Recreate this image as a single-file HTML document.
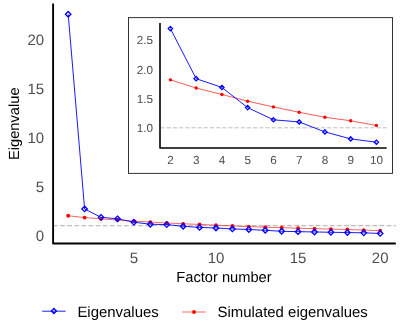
<!DOCTYPE html><html lang="en"><head><meta charset="utf-8"><style>html,body{margin:0;padding:0;background:#fff}svg{display:block;will-change:transform}text{text-rendering:geometricPrecision;font-family:"Liberation Sans",sans-serif}</style></head><body>
<svg width="405" height="330" viewBox="0 0 405 330">
<rect width="405" height="330" fill="#fff"/>
<line x1="53" y1="225.59" x2="395.8" y2="225.59" stroke="#bebebe" stroke-width="1.1" stroke-dasharray="4.73 2.37"/>
<polyline points="68.20,215.77 84.62,217.54 101.04,218.91 117.46,219.99 133.88,221.12 150.30,222.08 166.72,222.98 183.14,223.82 199.56,224.41 215.98,225.19 232.40,225.98 248.82,226.57 265.24,227.16 281.66,227.65 298.08,228.24 314.50,228.63 330.92,229.12 347.34,229.51 363.76,230.10 380.18,230.69" fill="none" stroke="#ff0000" stroke-width="0.6" stroke-linejoin="round"/>
<circle cx="68.20" cy="215.77" r="1.9" fill="#ff0000"/>
<circle cx="84.62" cy="217.54" r="1.9" fill="#ff0000"/>
<circle cx="101.04" cy="218.91" r="1.9" fill="#ff0000"/>
<circle cx="117.46" cy="219.99" r="1.9" fill="#ff0000"/>
<circle cx="133.88" cy="221.12" r="1.9" fill="#ff0000"/>
<circle cx="150.30" cy="222.08" r="1.9" fill="#ff0000"/>
<circle cx="166.72" cy="222.98" r="1.9" fill="#ff0000"/>
<circle cx="183.14" cy="223.82" r="1.9" fill="#ff0000"/>
<circle cx="199.56" cy="224.41" r="1.9" fill="#ff0000"/>
<circle cx="215.98" cy="225.19" r="1.9" fill="#ff0000"/>
<circle cx="232.40" cy="225.98" r="1.9" fill="#ff0000"/>
<circle cx="248.82" cy="226.57" r="1.9" fill="#ff0000"/>
<circle cx="265.24" cy="227.16" r="1.9" fill="#ff0000"/>
<circle cx="281.66" cy="227.65" r="1.9" fill="#ff0000"/>
<circle cx="298.08" cy="228.24" r="1.9" fill="#ff0000"/>
<circle cx="314.50" cy="228.63" r="1.9" fill="#ff0000"/>
<circle cx="330.92" cy="229.12" r="1.9" fill="#ff0000"/>
<circle cx="347.34" cy="229.51" r="1.9" fill="#ff0000"/>
<circle cx="363.76" cy="230.10" r="1.9" fill="#ff0000"/>
<circle cx="380.18" cy="230.69" r="1.9" fill="#ff0000"/>
<polyline points="68.20,14.27 84.62,208.94 101.04,217.34 117.46,218.81 133.88,222.20 150.30,224.24 166.72,224.60 183.14,226.27 199.56,227.45 215.98,228.00 232.40,228.92 248.82,229.51 265.24,230.30 281.66,231.28 298.08,231.67 314.50,231.96 330.92,232.26 347.34,232.55 363.76,232.85 380.18,233.44" fill="none" stroke="#0000ff" stroke-width="0.9" stroke-linejoin="round"/>
<path d="M68.20 11.52L70.95 14.27L68.20 17.02L65.45 14.27Z" fill="none" stroke="#0000ff" stroke-width="1.3"/>
<path d="M84.62 206.19L87.37 208.94L84.62 211.69L81.87 208.94Z" fill="none" stroke="#0000ff" stroke-width="1.3"/>
<path d="M101.04 214.59L103.79 217.34L101.04 220.09L98.29 217.34Z" fill="none" stroke="#0000ff" stroke-width="1.3"/>
<path d="M117.46 216.06L120.21 218.81L117.46 221.56L114.71 218.81Z" fill="none" stroke="#0000ff" stroke-width="1.3"/>
<path d="M133.88 219.45L136.63 222.20L133.88 224.95L131.13 222.20Z" fill="none" stroke="#0000ff" stroke-width="1.3"/>
<path d="M150.30 221.49L153.05 224.24L150.30 226.99L147.55 224.24Z" fill="none" stroke="#0000ff" stroke-width="1.3"/>
<path d="M166.72 221.85L169.47 224.60L166.72 227.35L163.97 224.60Z" fill="none" stroke="#0000ff" stroke-width="1.3"/>
<path d="M183.14 223.52L185.89 226.27L183.14 229.02L180.39 226.27Z" fill="none" stroke="#0000ff" stroke-width="1.3"/>
<path d="M199.56 224.70L202.31 227.45L199.56 230.20L196.81 227.45Z" fill="none" stroke="#0000ff" stroke-width="1.3"/>
<path d="M215.98 225.25L218.73 228.00L215.98 230.75L213.23 228.00Z" fill="none" stroke="#0000ff" stroke-width="1.3"/>
<path d="M232.40 226.17L235.15 228.92L232.40 231.67L229.65 228.92Z" fill="none" stroke="#0000ff" stroke-width="1.3"/>
<path d="M248.82 226.76L251.57 229.51L248.82 232.26L246.07 229.51Z" fill="none" stroke="#0000ff" stroke-width="1.3"/>
<path d="M265.24 227.55L267.99 230.30L265.24 233.05L262.49 230.30Z" fill="none" stroke="#0000ff" stroke-width="1.3"/>
<path d="M281.66 228.53L284.41 231.28L281.66 234.03L278.91 231.28Z" fill="none" stroke="#0000ff" stroke-width="1.3"/>
<path d="M298.08 228.92L300.83 231.67L298.08 234.42L295.33 231.67Z" fill="none" stroke="#0000ff" stroke-width="1.3"/>
<path d="M314.50 229.21L317.25 231.96L314.50 234.71L311.75 231.96Z" fill="none" stroke="#0000ff" stroke-width="1.3"/>
<path d="M330.92 229.51L333.67 232.26L330.92 235.01L328.17 232.26Z" fill="none" stroke="#0000ff" stroke-width="1.3"/>
<path d="M347.34 229.80L350.09 232.55L347.34 235.30L344.59 232.55Z" fill="none" stroke="#0000ff" stroke-width="1.3"/>
<path d="M363.76 230.10L366.51 232.85L363.76 235.60L361.01 232.85Z" fill="none" stroke="#0000ff" stroke-width="1.3"/>
<path d="M380.18 230.69L382.93 233.44L380.18 236.19L377.43 233.44Z" fill="none" stroke="#0000ff" stroke-width="1.3"/>
<path d="M53.1 3.5V243.55H395.8" fill="none" stroke="#000" stroke-width="1.9" stroke-linejoin="round"/>
<text x="44.2" y="241.20" font-size="15.0" fill="#4d4d4d" text-anchor="end">0</text>
<text x="44.2" y="192.12" font-size="15.0" fill="#4d4d4d" text-anchor="end">5</text>
<text x="44.2" y="143.05" font-size="15.0" fill="#4d4d4d" text-anchor="end">10</text>
<text x="44.2" y="93.98" font-size="15.0" fill="#4d4d4d" text-anchor="end">15</text>
<text x="44.2" y="44.90" font-size="15.0" fill="#4d4d4d" text-anchor="end">20</text>
<text x="133.88" y="262.5" font-size="15.0" fill="#4d4d4d" text-anchor="middle">5</text>
<text x="215.98" y="262.5" font-size="15.0" fill="#4d4d4d" text-anchor="middle">10</text>
<text x="298.08" y="262.5" font-size="15.0" fill="#4d4d4d" text-anchor="middle">15</text>
<text x="380.18" y="262.5" font-size="15.0" fill="#4d4d4d" text-anchor="middle">20</text>
<text x="224.0" y="281.8" font-size="14.67" fill="#000" text-anchor="middle">Factor number</text>
<text transform="translate(18.9,123.7) rotate(-90)" font-size="14.67" fill="#000" text-anchor="middle">Eigenvalue</text>
<rect x="128.5" y="17.6" width="264" height="155.8" fill="#fff" stroke="#333" stroke-width="1.0"/>
<line x1="160" y1="127.80" x2="386.6" y2="127.80" stroke="#bebebe" stroke-width="1.0" stroke-dasharray="4.11 2.06" stroke-dashoffset="-0.6"/>
<polyline points="170.40,79.83 196.15,88.02 221.90,94.45 247.65,101.18 273.40,106.92 299.15,112.30 324.90,117.27 350.65,120.78 376.40,125.46" fill="none" stroke="#ff0000" stroke-width="0.65" stroke-linejoin="round"/>
<circle cx="170.40" cy="79.83" r="1.7" fill="#ff0000"/>
<circle cx="196.15" cy="88.02" r="1.7" fill="#ff0000"/>
<circle cx="221.90" cy="94.45" r="1.7" fill="#ff0000"/>
<circle cx="247.65" cy="101.18" r="1.7" fill="#ff0000"/>
<circle cx="273.40" cy="106.92" r="1.7" fill="#ff0000"/>
<circle cx="299.15" cy="112.30" r="1.7" fill="#ff0000"/>
<circle cx="324.90" cy="117.27" r="1.7" fill="#ff0000"/>
<circle cx="350.65" cy="120.78" r="1.7" fill="#ff0000"/>
<circle cx="376.40" cy="125.46" r="1.7" fill="#ff0000"/>
<polyline points="170.40,28.58 196.15,78.66 221.90,87.44 247.65,107.62 273.40,119.79 299.15,121.95 324.90,131.89 350.65,138.91 376.40,142.19" fill="none" stroke="#0000ff" stroke-width="0.9" stroke-linejoin="round"/>
<path d="M170.40 26.38L172.60 28.58L170.40 30.78L168.20 28.58Z" fill="none" stroke="#0000ff" stroke-width="1.2"/>
<path d="M196.15 76.46L198.35 78.66L196.15 80.86L193.95 78.66Z" fill="none" stroke="#0000ff" stroke-width="1.2"/>
<path d="M221.90 85.23L224.10 87.44L221.90 89.64L219.70 87.44Z" fill="none" stroke="#0000ff" stroke-width="1.2"/>
<path d="M247.65 105.42L249.85 107.62L247.65 109.82L245.45 107.62Z" fill="none" stroke="#0000ff" stroke-width="1.2"/>
<path d="M273.40 117.59L275.60 119.79L273.40 121.99L271.20 119.79Z" fill="none" stroke="#0000ff" stroke-width="1.2"/>
<path d="M299.15 119.75L301.35 121.95L299.15 124.15L296.95 121.95Z" fill="none" stroke="#0000ff" stroke-width="1.2"/>
<path d="M324.90 129.69L327.10 131.89L324.90 134.09L322.70 131.89Z" fill="none" stroke="#0000ff" stroke-width="1.2"/>
<path d="M350.65 136.72L352.85 138.91L350.65 141.11L348.45 138.91Z" fill="none" stroke="#0000ff" stroke-width="1.2"/>
<path d="M376.40 139.99L378.60 142.19L376.40 144.39L374.20 142.19Z" fill="none" stroke="#0000ff" stroke-width="1.2"/>
<path d="M160 23V148H386.6" fill="none" stroke="#000" stroke-width="1.6" stroke-linejoin="round"/>
<text x="153" y="132.00" font-size="11.73" fill="#4d4d4d" text-anchor="end">1.0</text>
<text x="153" y="102.75" font-size="11.73" fill="#4d4d4d" text-anchor="end">1.5</text>
<text x="153" y="73.50" font-size="11.73" fill="#4d4d4d" text-anchor="end">2.0</text>
<text x="153" y="44.25" font-size="11.73" fill="#4d4d4d" text-anchor="end">2.5</text>
<text x="170.40" y="163.9" font-size="11.73" fill="#4d4d4d" text-anchor="middle">2</text>
<text x="196.15" y="163.9" font-size="11.73" fill="#4d4d4d" text-anchor="middle">3</text>
<text x="221.90" y="163.9" font-size="11.73" fill="#4d4d4d" text-anchor="middle">4</text>
<text x="247.65" y="163.9" font-size="11.73" fill="#4d4d4d" text-anchor="middle">5</text>
<text x="273.40" y="163.9" font-size="11.73" fill="#4d4d4d" text-anchor="middle">6</text>
<text x="299.15" y="163.9" font-size="11.73" fill="#4d4d4d" text-anchor="middle">7</text>
<text x="324.90" y="163.9" font-size="11.73" fill="#4d4d4d" text-anchor="middle">8</text>
<text x="350.65" y="163.9" font-size="11.73" fill="#4d4d4d" text-anchor="middle">9</text>
<text x="376.40" y="163.9" font-size="11.73" fill="#4d4d4d" text-anchor="middle">10</text>
<line x1="42.2" y1="311.2" x2="65.6" y2="311.2" stroke="#0000ff" stroke-width="0.9"/>
<path d="M53.90 308.45L56.45 311.00L53.90 313.55L51.35 311.00Z" fill="none" stroke="#0000ff" stroke-width="1.3"/>
<text x="77.4" y="316.9" font-size="14.95" fill="#000">Eigenvalues</text>
<line x1="182.2" y1="312.0" x2="205.6" y2="312.0" stroke="#ff0000" stroke-width="0.6"/>
<circle cx="194" cy="312.0" r="1.95" fill="#ff0000"/>
<text x="217.5" y="316.9" font-size="14.95" fill="#000">Simulated eigenvalues</text>
</svg></body></html>
